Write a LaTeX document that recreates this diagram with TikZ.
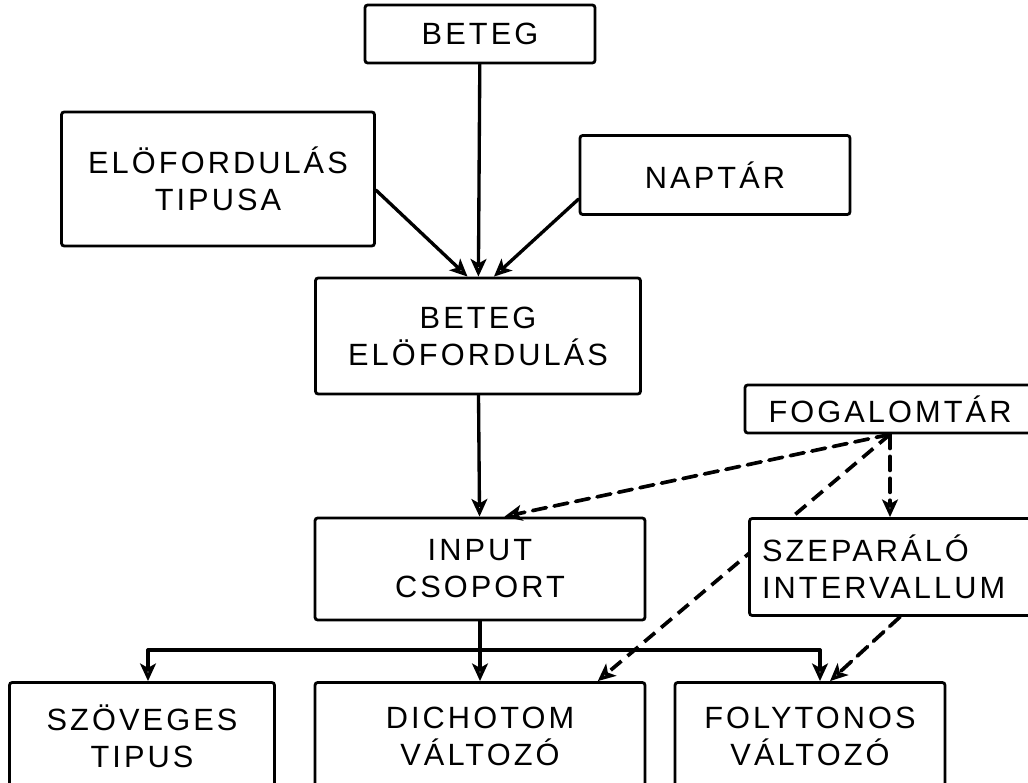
\documentclass[tikz,border=0pt]{standalone}
\usepackage{fontspec}
\setmainfont{Liberation Sans}[LetterSpace=10]
\usetikzlibrary{arrows.meta}
\usetikzlibrary{backgrounds}
\usetikzlibrary{calc}
\usetikzlibrary{positioning}
\tikzset{
  dbbox/.style={
    draw, fill=white, line width=1.6pt, rounded corners=1.5pt,
    inner sep=2pt, align=center, font=\fontsize{17.5}{21}\selectfont},
  dbarrow/.style={-{Stealth[open, length=10pt, width=9pt, inset=2.5pt]},
    line width=1.9pt},
  dbdash/.style={dbarrow, line width=2.1pt, dash pattern=on 8pt off 4.5pt},
  dbline/.style={line width=1.9pt},
  every picture/.style={line cap=round},
}
\begin{document}
\begin{tikzpicture}[x=0.02cm, y=-0.02cm]
\useasboundingbox (0, 0) rectangle (1028, 783);

% Top row: patient, event type, calendar.
\node[dbbox, minimum width=4.6cm, minimum height=1.16cm]
  (beteg) at (480, 34) {BETEG};
\node[dbbox, minimum width=6.26cm, minimum height=2.68cm]
  (tipusa) at (218, 179) {ELÖFORDULÁS\\TIPUSA};
\node[dbbox, minimum width=5.4cm, minimum height=1.58cm]
  (naptar) at (715, 175) {NAPTÁR};

% Middle: patient event and input group.
\node[dbbox, minimum width=6.5cm, minimum height=2.32cm]
  (esemeny) at (478, 336) {BETEG\\ELÖFORDULÁS};
\node[dbbox, minimum width=6.6cm, minimum height=2.04cm]
  (input) at (480, 569) {INPUT\\CSOPORT};

% Right: concept store and separating interval.
\node[dbbox, minimum width=5.8cm, minimum height=0.96cm]
  (fogalom) at (890, 409) {FOGALOMTÁR};
\node[dbbox, align=left, minimum width=5.7cm, minimum height=1.94cm,
      text width=5.2cm]
  (szep) at (892, 567) {SZEPARÁLÓ\\INTERVALLUM};

% Bottom row: variable kinds.
\node[dbbox, minimum width=5.3cm, minimum height=2.14cm]
  (szoveges) at (142, 736) {SZÖVEGES\\TIPUS};
\node[dbbox, minimum width=6.6cm, minimum height=2.14cm]
  (dichotom) at (480, 736) {DICHOTOM\\VÁLTOZÓ};
\node[dbbox, minimum width=5.4cm, minimum height=2.14cm]
  (folytonos) at (810, 736) {FOLYTONOS\\VÁLTOZÓ};

% Solid flow.
\draw[dbarrow] (beteg) -- (esemeny);
\draw[dbarrow] (tipusa.-4) -- (esemeny.100);
\draw[dbarrow] (naptar.190) -- (esemeny.75);
\draw[dbarrow] (esemeny) -- (input);

% Split of the input group.
\coordinate (branch) at (480, 650);
\draw[dbline] (input) -- (branch);
\draw[dbline] ($(branch -| szoveges) + (6, 0)$) -- ($(branch -| folytonos) + (10, 0)$);
\draw[dbarrow] ($(branch -| szoveges) + (6, 0)$) -- ($(szoveges.north) + (6, 0)$);
\draw[dbarrow] (branch) -- (dichotom);
\draw[dbarrow] ($(branch -| folytonos) + (10, 0)$) -- ($(folytonos.north) + (10, 0)$);

% Dashed links from the concept store.
\draw[dbdash] (fogalom.south) -- (input.65);
\draw[dbdash] (fogalom.south) -- (szep.north -| fogalom.south);
\begin{pgfonlayer}{background}
  \draw[dbdash] (fogalom.south) -- (dichotom.25);
\end{pgfonlayer}
\draw[dbdash] ($(szep.south) + (8, 0)$) -- (folytonos.70);

\end{tikzpicture}
\end{document}
